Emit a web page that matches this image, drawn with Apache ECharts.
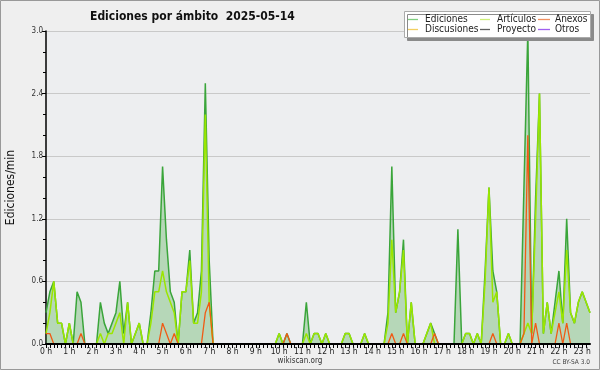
<!DOCTYPE html>
<html>
<head>
<meta charset="utf-8">
<script src="https://cdn.jsdelivr.net/npm/echarts@6/dist/echarts.min.js"></script>
<style>
html,body{margin:0;padding:0;background:#efefef;}
#chart{width:600px;height:370px;}
</style>
</head>
<body>
<div id="chart"></div>
<script>
// 10-minute slots from 00:00 to 23:20 (index i -> i*10 minutes)
const hourTicks = ['0 h','1 h','2 h','3 h','4 h','5 h','6 h','7 h','8 h','9 h','10 h','11 h','12 h','13 h','14 h','15 h','16 h','17 h','18 h','19 h','20 h','21 h','22 h','23 h'];
const yTicks = [0, 0.6, 1.2, 1.8, 2.4, 3.0];

const ediciones = [
  0.3,0.5,0.6,0.2,0.2,0,0.2,0,0.5,0.4,0,0,
  0,0,0.4,0.2,0.1,0.2,0.3,0.6,0.1,0.4,0,0.1,
  0.2,0,0,0.3,0.7,0.7,1.7,1.0,0.5,0.4,0,0.5,
  0.5,0.9,0.2,0.3,0.7,2.5,0.8,0,0,0,0,0,
  0,0,0,0,0,0,0,0,0,0,0,0,
  0.1,0,0.1,0,0,0,0,0.4,0,0.1,0.1,0,
  0.1,0,0,0,0,0.1,0.1,0,0,0,0.1,0,
  0,0,0,0,0.3,1.7,0.3,0.5,1.0,0,0.4,0,
  0,0,0.1,0.2,0.1,0,0,0,0,0,1.1,0,
  0.1,0.1,0,0.1,0,0.7,1.5,0.7,0.5,0,0,0.1,
  0,0,0,1.5,3.0,0.1,1.4,2.4,0.1,0.4,0.1,0.4,
  0.7,0.2,1.2,0.3,0.2,0.4,0.5,0.4,0.3
];
const articulos = [
  0.1,0.3,0.6,0.2,0.2,0,0.2,0,0,0,0,0,
  0,0,0.1,0,0.1,0.1,0.2,0.3,0,0.4,0,0.1,
  0.2,0,0,0.2,0.5,0.5,0.7,0.5,0.4,0.3,0,0.5,
  0.5,0.8,0.2,0.2,0.5,2.2,0.4,0,0,0,0,0,
  0,0,0,0,0,0,0,0,0,0,0,0,
  0.1,0,0,0,0,0,0,0.1,0,0.1,0.1,0,
  0.1,0,0,0,0,0.1,0.1,0,0,0,0.1,0,
  0,0,0,0,0.2,1.0,0.3,0.5,0.9,0,0.4,0,
  0,0,0.1,0.2,0,0,0,0,0,0,0,0,
  0.1,0.1,0,0.1,0,0.6,1.5,0.4,0.5,0,0,0.1,
  0,0,0,0.1,0.2,0.1,1.2,2.4,0.1,0.4,0.1,0.3,
  0.5,0.2,0.9,0.3,0.2,0.4,0.5,0.4,0.3
];
const anexos = [
  0.1,0.1,0,0,0,0,0,0,0,0.1,0,0,
  0,0,0,0,0,0,0,0,0,0,0,0,
  0,0,0,0,0,0,0.2,0.1,0,0.1,0,0,
  0,0,0,0,0,0.3,0.4,0,0,0,0,0,
  0,0,0,0,0,0,0,0,0,0,0,0,
  0,0,0.1,0,0,0,0,0,0,0,0,0,
  0,0,0,0,0,0,0,0,0,0,0,0,
  0,0,0,0,0,0.1,0,0,0.1,0,0,0,
  0,0,0,0,0.1,0,0,0,0,0,0,0,
  0,0,0,0,0,0,0,0.1,0,0,0,0,
  0,0,0,0.1,2.0,0,0.2,0,0,0,0,0,
  0.2,0,0.2,0,0,0,0,0,0
];
const discusiones = [];
const proyecto = [];
const otros = [];

const legendNames = ['Ediciones', 'Artículos', 'Anexos', 'Discusiones', 'Proyecto', 'Otros'];
const legendColors = ['#80cf80', '#cdee78', '#f09060', '#f2cf60', '#606060', '#a060f0'];

const FONT = "'DejaVu Sans Condensed','DejaVu Sans',sans-serif";
const pairs = a => a.map((v, i) => [i, v]);

const chart = echarts.init(document.getElementById('chart'), null, {renderer: 'canvas'});

function line(name, data, color, width, z, extra) {
  return Object.assign({
    name, type: 'line', data: pairs(data), symbol: 'none', showSymbol: false,
    lineStyle: {color, width}, itemStyle: {color}, z, animation: false
  }, extra || {});
}

const colX = [408, 480, 538];
const colLen = [10, 10, 12];
const rowY = [19, 29];
const legendGraphics = [];
legendNames.forEach((name, k) => {
  const c = k % 3, r = Math.floor(k / 3);
  legendGraphics.push({type: 'line', z: 101, shape: {x1: colX[c], y1: rowY[r] + 0.5, x2: colX[c] + colLen[c], y2: rowY[r] + 0.5},
    style: {stroke: legendColors[k], lineWidth: 1.3}});
  legendGraphics.push({type: 'text', z: 101, x: colX[c] + 17, y: rowY[r],
    style: {text: name, font: "10px 'DejaVu Sans Condensed','DejaVu Sans',sans-serif", fill: '#222', textVerticalAlign: 'middle', verticalAlign: 'middle'}});
});

chart.setOption({
  backgroundColor: '#efefef',
  animation: false,
  title: {
    text: 'Ediciones por ámbito  2025-05-14', left: 85, top: 6,
    textStyle: {fontFamily: FONT, fontSize: 12, fontWeight: 'bold', color: '#111'}
  },
  grid: {left: 46, right: 10, top: 31, bottom: 26, containLabel: false, outerBoundsMode: 'none',
    show: true, backgroundColor: '#edeef0', borderWidth: 0},
  xAxis: {
    type: 'value', min: 0, max: 140, interval: 1, z: 10,
    axisLine: {show: true, onZero: false, lineStyle: {color: '#000', width: 2}},
    axisTick: {show: true, length: 4, lineStyle: {color: '#000', width: 1}},
    splitLine: {show: false},
    axisLabel: {
      margin: 3, fontFamily: FONT, fontSize: 8.5, color: '#222',
      showMinLabel: true, showMaxLabel: false,
      formatter: v => (Math.round(v) % 6 === 0 && Math.round(v) / 6 < hourTicks.length) ? hourTicks[Math.round(v) / 6] : ''
    }
  },
  yAxis: {
    type: 'value', min: yTicks[0], max: yTicks[yTicks.length - 1], interval: 0.6,
    name: 'Ediciones/min', nameLocation: 'middle', nameGap: 29, nameRotate: 90,
    nameTextStyle: {fontFamily: FONT, fontSize: 12, color: '#111'},
    axisLine: {show: true, lineStyle: {color: '#000', width: 1.5}},
    axisTick: {show: true, length: 4, lineStyle: {color: '#000'}},
    minorTick: {show: true, splitNumber: 3, length: 3, lineStyle: {color: '#000'}},
    splitLine: {show: true, lineStyle: {color: '#c9c9c9', width: 1}},
    axisLabel: {margin: 3, fontFamily: FONT, fontSize: 8, color: '#333', formatter: v => v.toFixed(1)}
  },
  series: [
    line('Ediciones', ediciones, '#3aa53a', 1.5, 2, {areaStyle: {color: 'rgba(50,160,50,0.42)', origin: 'start'}}),
    line('Discusiones', discusiones, '#f3c13a', 1.2, 3),
    line('Proyecto', proyecto, '#444444', 1.2, 3),
    line('Otros', otros, '#9a3cf0', 1.2, 3),
    line('Artículos', articulos, '#9be600', 1.5, 4),
    line('Anexos', anexos, '#f05a14', 1.3, 5)
  ],
  graphic: [
    {type: 'rect', z: 100, shape: {x: 404.5, y: 11.5, width: 186, height: 26},
      style: {fill: '#ffffff', stroke: '#aaaaaa', lineWidth: 1, shadowColor: '#8a8a8a', shadowOffsetX: 3, shadowOffsetY: 3, shadowBlur: 0}},
    ...legendGraphics,
    {type: 'text', z: 100, x: 300, y: 361,
      style: {text: 'wikiscan.org', font: "8px 'DejaVu Sans Condensed','DejaVu Sans',sans-serif", fill: '#333', textAlign: 'center', align: 'center', textVerticalAlign: 'middle', verticalAlign: 'middle'}},
    {type: 'text', z: 100, x: 590, y: 362,
      style: {text: 'CC BY-SA 3.0', font: "6.5px 'DejaVu Sans Condensed','DejaVu Sans',sans-serif", fill: '#444', textAlign: 'right', align: 'right', textVerticalAlign: 'middle', verticalAlign: 'middle'}},
    {type: 'rect', z: 100, shape: {x: 0.5, y: 0.5, width: 599, height: 369},
      style: {fill: 'none', stroke: '#999999', lineWidth: 1}}
  ]
});
</script>
</body>
</html>
